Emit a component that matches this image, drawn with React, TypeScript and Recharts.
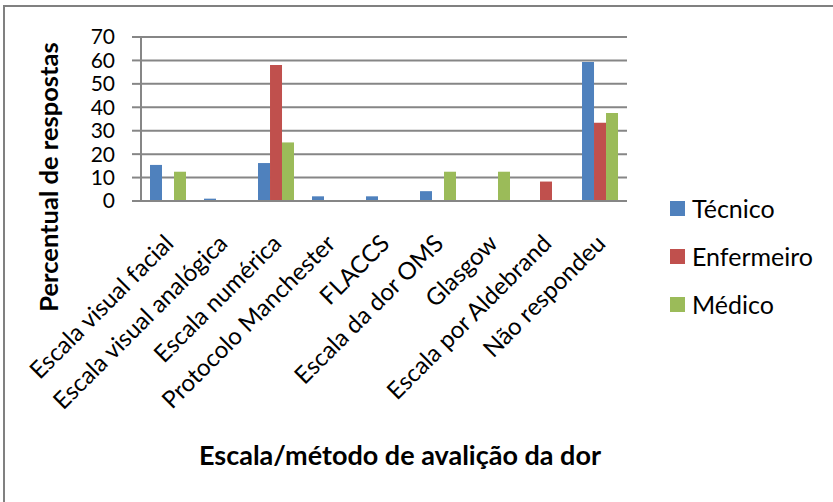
import React from "react";
import { BarChart, Bar, XAxis, YAxis, CartesianGrid, Label } from "recharts";

const categories = [
  "Escala visual facial",
  "Escala visual analógica",
  "Escala numérica",
  "Protocolo Manchester",
  "FLACCS",
  "Escala da dor OMS",
  "Glasgow",
  "Escala por Aldebrand",
  "Não respondeu",
];
const tecnico = [15.4, 1.0, 16.2, 2.0, 2.0, 4.2, 0, 0, 59.3];
const enfermeiro = [0, 0, 58.1, 0, 0, 0, 0, 8.3, 33.4];
const medico = [12.5, 0, 25.0, 0, 0, 12.5, 12.5, 0, 37.6];
const yTicks = [0, 10, 20, 30, 40, 50, 60, 70];

const seriesNames = ["Técnico", "Enfermeiro", "Médico"];
const COLORS = ["#4f81bd", "#c0504d", "#9bbb59"];
const FONT = "Lato, 'Open Sans', sans-serif";
const GRID = "#868686";

const data = categories.map((name, i) => ({
  name,
  tecnico: tecnico[i],
  enfermeiro: enfermeiro[i],
  medico: medico[i],
}));

const CategoryTick = (props: any) => {
  const { x, y, payload } = props;
  return (
    <text
      transform={`translate(${x + 7},${y + 36}) rotate(-45)`}
      textAnchor="end"
      fontSize={24}
      fontFamily={FONT}
      fill="#000"
    >
      {payload.value}
    </text>
  );
};

const App: React.FC = () => {
  return (
    <div style={{ position: "absolute", left: 0, top: 0, width: 833, height: 502, background: "#fff", overflow: "hidden" }}>
      <div
        style={{
          position: "absolute",
          left: 3,
          top: 5,
          width: 900,
          height: 600,
          border: "2.5px solid #808080",
        }}
      />
      <BarChart
        width={833}
        height={502}
        data={data}
        margin={{ top: 37, right: 206, left: 0, bottom: 0 }}
        barCategoryGap="16.7%"
        barGap={0}
        style={{ position: "absolute", left: 0, top: 0 }}
      >
        <CartesianGrid vertical={false} stroke={GRID} strokeWidth={2} />
        <XAxis
          dataKey="name"
          height={301}
          interval={0}
          tickLine={false}
          axisLine={{ stroke: GRID, strokeWidth: 2 }}
          tick={<CategoryTick />}
        >
          <Label
            content={() => (
              <text x={400} y={465} textAnchor="middle" fontSize={27} fontWeight="bold" fontFamily={FONT} fill="#000">
                Escala/método de avalição da dor
              </text>
            )}
          />
        </XAxis>
        <YAxis
          width={141}
          domain={[0, 70]}
          ticks={yTicks}
          interval={0}
          tickSize={9}
          tickMargin={17}
          tickLine={{ stroke: GRID, strokeWidth: 2 }}
          axisLine={{ stroke: GRID, strokeWidth: 2 }}
          tick={{ fill: "#000", fontSize: 21, fontFamily: FONT }}
        >
          <Label
            content={() => (
              <text
                x={58}
                y={177}
                transform="rotate(-90, 58, 177)"
                textAnchor="middle"
                fontSize={25.5}
                fontWeight="bold"
                fontFamily={FONT}
                fill="#000"
              >
                Percentual de respostas
              </text>
            )}
          />
        </YAxis>
        <Bar dataKey="tecnico" name={seriesNames[0]} fill={COLORS[0]} isAnimationActive={false} />
        <Bar dataKey="enfermeiro" name={seriesNames[1]} fill={COLORS[1]} isAnimationActive={false} />
        <Bar dataKey="medico" name={seriesNames[2]} fill={COLORS[2]} isAnimationActive={false} />
      </BarChart>
      {seriesNames.map((s, i) => (
        <div
          key={s}
          style={{
            position: "absolute",
            left: 670,
            top: 208 + i * 48 - 15,
            height: 30,
            display: "flex",
            alignItems: "center",
            fontFamily: FONT,
            fontSize: 25,
            color: "#000",
          }}
        >
          <span style={{ display: "inline-block", width: 15, height: 15, background: COLORS[i], marginRight: 7 }} />
          {s}
        </div>
      ))}
    </div>
  );
};

export default App;
